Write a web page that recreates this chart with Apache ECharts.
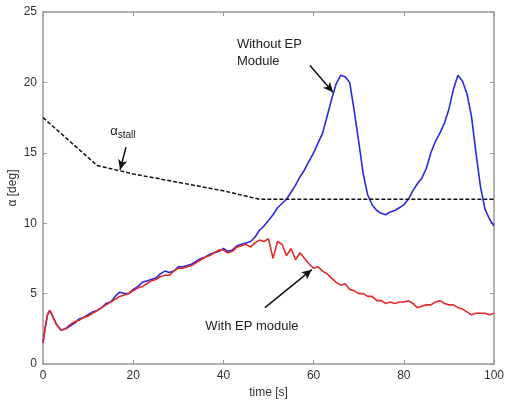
<!DOCTYPE html>
<html><head><meta charset="utf-8">
<script src="https://cdn.jsdelivr.net/npm/echarts@6/dist/echarts.min.js"></script>
<style>html,body{margin:0;padding:0;background:#fff}#c{width:506px;height:406px}</style>
</head><body><div id="c"></div>
<script>
const xTicks = [0, 20, 40, 60, 80, 100];
const yTicks = [0, 5, 10, 15, 20, 25];
const xLabel = 'time [s]';
const yLabel = 'α [deg]';

const stallLine = [[0,17.5],[12,14.1],[20,13.5],[30,12.9],[40,12.3],[48,11.7],[60,11.7],[80,11.7],[100,11.7]];

const withoutEP = [[0,1.5],[0.5,2.6],[1,3.5],[1.5,3.8],[2,3.5],[3,2.8],[4,2.4],[5,2.5],[6,2.7],[7,2.9],[8,3.2],[9,3.3],[10,3.5],[11,3.7],[12,3.8],[13,4.0],[14,4.3],[15,4.4],[16,4.8],[17,5.1],[18,5.0],[19,5.0],[20,5.3],[21,5.5],[22,5.8],[23,5.9],[24,6.0],[25,6.1],[26,6.4],[27,6.6],[28,6.5],[29,6.6],[30,6.9],[31,6.9],[32,7.0],[33,7.1],[34,7.3],[35,7.5],[36,7.6],[37,7.8],[38,7.9],[39,8.0],[40,8.2],[41,8.0],[42,8.1],[43,8.4],[44,8.5],[45,8.6],[46,8.7],[47,9.0],[48,9.5],[49,9.8],[50,10.2],[51,10.6],[52,11.1],[53,11.4],[54,11.7],[55,12.2],[56,12.7],[57,13.3],[58,13.8],[59,14.4],[60,15.0],[61,15.7],[62,16.4],[63,17.6],[64,18.8],[65,19.9],[66,20.5],[67,20.4],[68,20.0],[69,18.0],[70,15.8],[71,13.5],[72,12.0],[73,11.3],[74,10.9],[75,10.7],[76,10.6],[77,10.8],[78,10.9],[79,11.1],[80,11.3],[81,11.7],[82,12.3],[83,12.8],[84,13.2],[85,13.9],[86,15.0],[87,15.8],[88,16.4],[89,17.1],[90,18.1],[91,19.5],[92,20.5],[93,20.1],[94,19.2],[95,17.6],[96,15.0],[97,12.6],[98,11.0],[99,10.3],[100,9.8]];

const withEP = [[0,1.5],[0.5,2.6],[1,3.5],[1.5,3.8],[2,3.5],[3,2.8],[4,2.4],[5,2.5],[6,2.8],[7,3.0],[8,3.1],[9,3.3],[10,3.4],[11,3.6],[12,3.8],[13,4.0],[14,4.2],[15,4.4],[16,4.6],[17,4.8],[18,4.9],[19,5.0],[20,5.2],[21,5.4],[22,5.5],[23,5.7],[24,5.9],[25,6.0],[26,6.2],[27,6.3],[28,6.3],[29,6.6],[30,6.8],[31,6.8],[32,6.9],[33,7.0],[34,7.2],[35,7.4],[36,7.6],[37,7.7],[38,7.9],[39,8.1],[40,8.1],[41,7.9],[42,8.0],[43,8.3],[44,8.4],[45,8.5],[46,8.3],[47,8.6],[48,8.8],[49,8.7],[50,8.9],[51,7.5],[52,8.7],[53,8.5],[54,7.7],[55,8.2],[56,7.4],[57,7.9],[58,7.5],[59,7.1],[60,6.8],[61,6.9],[62,6.6],[63,6.4],[64,6.1],[65,5.8],[66,5.6],[67,5.7],[68,5.3],[69,5.2],[70,5.0],[71,5.0],[72,4.8],[73,4.8],[74,4.5],[75,4.5],[76,4.3],[77,4.4],[78,4.3],[79,4.4],[80,4.4],[81,4.5],[82,4.3],[83,4.0],[84,4.1],[85,4.2],[86,4.2],[87,4.4],[88,4.5],[89,4.3],[90,4.2],[91,4.2],[92,4.0],[93,3.9],[94,3.7],[95,3.5],[96,3.6],[97,3.6],[98,3.6],[99,3.5],[100,3.6]];

// annotation arrows [from, to] in data coordinates
const arrows = [
  [[18.4,15.4],[17.1,13.8]],
  [[59.2,21.2],[64.3,19.3]],
  [[49.2,4.0],[59.6,6.7]]
];
const notes = [
  {pos:[14.9,16.5], text:'{a|α}{s|stall}'},
  {pos:[43.0,22.1], text:'Without EP\nModule'},
  {pos:[36.0,2.7], text:'With EP module'}
];

const FONT = 'Liberation Sans, Arial, sans-serif';
const axisCommon = {
  type:'value', splitLine:{show:false},
  axisLine:{show:true, onZero:false, lineStyle:{color:'#999', width:1.5}},
  axisTick:{show:true, inside:true, length:4, lineStyle:{color:'#999'}},
};
const chart = echarts.init(document.getElementById('c'), null, {renderer:'canvas'});
const option = {
  backgroundColor:'#fff',
  animation:false,
  grid:{left:43, right:12, top:12, bottom:42, show:false, containLabel:false, outerBoundsMode:'none'},
  xAxis:[
    Object.assign({}, axisCommon, {min:xTicks[0], max:xTicks[xTicks.length-1], interval:20, position:'bottom',
      name:xLabel, nameLocation:'middle', nameGap:23, nameMoveOverlap:false, nameTextStyle:{fontFamily:FONT, fontSize:12, color:'#333'},
      axisLabel:{margin:6, fontFamily:FONT, fontSize:12, color:'#333'}}),
    Object.assign({}, axisCommon, {min:xTicks[0], max:xTicks[xTicks.length-1], interval:20, position:'top', axisLabel:{show:false}})
  ],
  yAxis:[
    Object.assign({}, axisCommon, {min:yTicks[0], max:yTicks[yTicks.length-1], interval:5, position:'left',
      name:yLabel, nameLocation:'middle', nameGap:24, nameMoveOverlap:false, nameTextStyle:{fontFamily:FONT, fontSize:12, color:'#333'},
      axisLabel:{margin:6, fontFamily:FONT, fontSize:12, color:'#333'}}),
    Object.assign({}, axisCommon, {min:yTicks[0], max:yTicks[yTicks.length-1], interval:5, position:'right', axisLabel:{show:false}})
  ],
  series:[
    {type:'line', name:'stall', data:stallLine, symbol:'none', z:3,
      lineStyle:{color:'#111', width:1.5, type:[4,2]},
      markLine:{silent:true, symbol:['none','arrow'], symbolSize:[7,10], label:{show:false},
        lineStyle:{color:'#111', width:1.5, type:'solid'},
        data: arrows.map(a => [{coord:a[0]},{coord:a[1]}])}},
    {type:'line', name:'without', data:withoutEP, symbol:'none', z:2,
      lineStyle:{color:'#2a2ae0', width:1.6}},
    {type:'line', name:'with', data:withEP, symbol:'none', z:4,
      lineStyle:{color:'#e42a2a', width:1.6}}
  ]
};
chart.setOption(option);
const graphics = notes.map(n => {
  const p = chart.convertToPixel({gridIndex:0}, n.pos);
  return {type:'text', x:p[0], y:p[1], z:10, style:{text:n.text, fill:'#222', font:'13px '+FONT, lineHeight:17,
    textVerticalAlign:'middle', textAlign:'left',
    rich:{a:{fontSize:13, fontFamily:FONT, fill:'#222'}, s:{fontSize:10, fontFamily:FONT, fill:'#222', padding:[8,0,0,0]}}}};
});
chart.setOption({graphic:graphics});
</script></body></html>
